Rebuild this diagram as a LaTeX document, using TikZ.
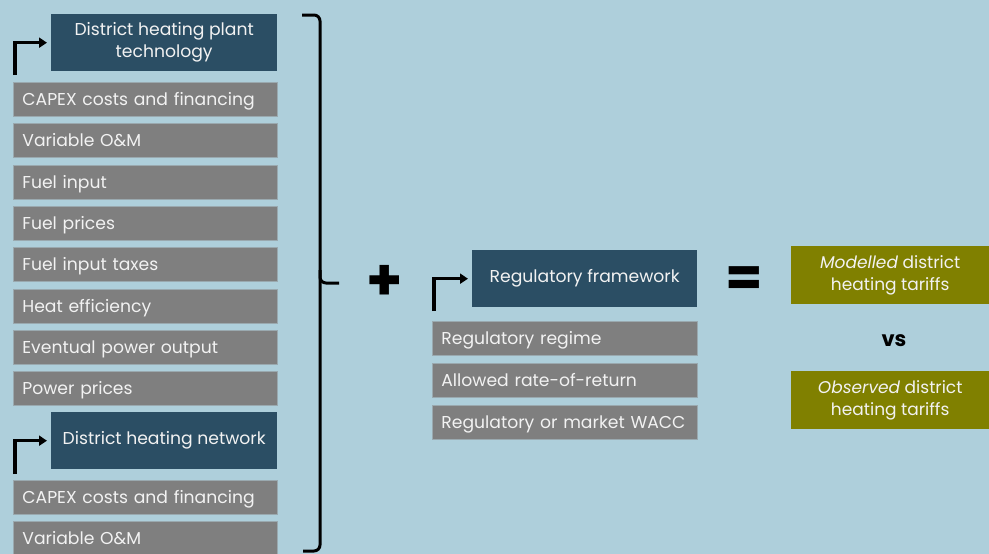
\documentclass[tikz,border=0pt]{standalone}
\usepackage{fontspec}
\setmainfont{Poppins}
\usetikzlibrary{arrows.meta}
\definecolor{bg}{HTML}{AECFDB}
\definecolor{darkb}{HTML}{2B4E64}
\definecolor{grayb}{HTML}{7F7F7F}
\definecolor{grayedge}{HTML}{9AA9AF}
\definecolor{oliveb}{HTML}{808000}
\definecolor{txt}{HTML}{F2F2F2}
\begin{document}
\begin{tikzpicture}[x=1pt,y=-1pt,
  darkbox/.style={fill=darkb, draw=none, text=txt, align=center, anchor=north west,
    minimum height=57pt, inner sep=0pt, font=\fontsize{17.2}{22}\selectfont},
  graybox/.style={fill=grayb, draw=grayedge, line width=0.8pt, text=txt, anchor=north west,
    minimum height=34pt, inner xsep=9pt, inner ysep=0pt, align=left,
    text height=16.5pt, text depth=4pt,
    font=\fontsize{17.2}{20}\selectfont},
  olivebox/.style={fill=oliveb, draw=none, text=txt, align=center, anchor=north west,
    minimum width=198pt, minimum height=58pt, inner sep=0pt, font=\fontsize{17}{22}\selectfont},
  arr/.style={line width=3.2pt, -{Triangle[length=8pt,width=10pt]}, shorten >=4pt},
  bracestyle/.style={line width=3pt, rounded corners=6pt}
]
\fill[bg] (0,0) rectangle (989,554);
\useasboundingbox (0,0) rectangle (989,554);

% left column
\node[darkbox, minimum width=226pt] (d1) at (51,14) {District heating plant\\technology};
\coordinate (a1) at (15,75);
\draw[arr] (a1) |- (d1.west);

\foreach \name/\y/\t in {g1/82/CAPEX costs and financing, g2/123/Variable O\&M, g3/165/Fuel input,
  g4/206/Fuel prices, g5/247/Fuel input taxes, g6/289/Heat efficiency,
  g7/330/Eventual power output, g8/371/Power prices, g9/480/CAPEX costs and financing,
  g10/521/Variable O\&M}
  \node[graybox, text width=246pt] (\name) at (13,\y) {\t};

\node[darkbox, minimum width=226pt] (d2) at (51,412) {District heating network};
\coordinate (a2) at (15,474);
\draw[arr] (a2) |- (d2.west);

% brace
\coordinate (bt) at (302,15);
\coordinate (bb) at (303,551);
\coordinate (btip) at (339,283);
\draw[bracestyle] (bt) -- (320,15) -- (320,283) -- (btip);
\draw[bracestyle] (320,270) -- (320,283) -- (320,551) -- (bb);

% plus
\node[font=\fontsize{58}{58}\selectfont\bfseries, inner sep=0pt] (plus) at (385,283) {+};

% middle column
\node[darkbox, minimum width=225pt] (d3) at (472,250) {Regulatory framework};
\coordinate (a3) at (434,311);
\draw[arr] (a3) |- (d3.west);
\foreach \name/\y/\t in {r1/321/Regulatory regime, r2/363/Allowed rate-of-return, r3/405/Regulatory or market WACC}
  \node[graybox, text width=247pt] (\name) at (432,\y) {\t};

% equals
\node[font=\fontsize{54}{54}\selectfont\bfseries, inner sep=0pt] (eq) at (744,282) {=};

% right column
\node[olivebox] (o1) at (791,246) {\textit{Modelled} district\\heating tariffs};
\node[font=\fontsize{21}{24}\selectfont\bfseries, inner sep=0pt] (vs) at (894,341) {vs};
\node[olivebox] (o2) at (791,371) {\textit{Observed} district\\heating tariffs};
\end{tikzpicture}
\end{document}
